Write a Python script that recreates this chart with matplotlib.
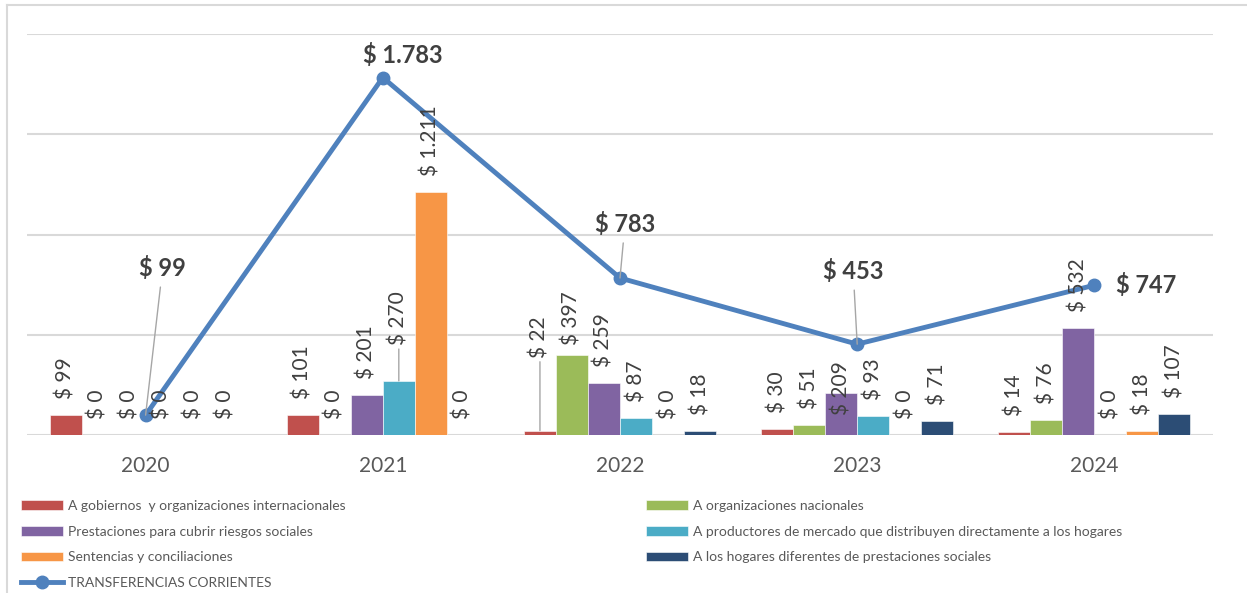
import numpy as np
import matplotlib
matplotlib.use('Agg')
import matplotlib.pyplot as plt
from matplotlib.lines import Line2D

plt.rcParams['font.family'] = ['Lato', 'DejaVu Sans']

years = ['2020', '2021', '2022', '2023', '2024']
series_names = [
    'A gobiernos  y organizaciones internacionales',
    'A organizaciones nacionales',
    'Prestaciones para cubrir riesgos sociales',
    'A productores de mercado que distribuyen directamente a los hogares',
    'Sentencias y conciliaciones',
    'A los hogares diferentes de prestaciones sociales',
]
gobiernos = [99, 101, 22, 30, 14]
nacionales = [0, 0, 397, 51, 76]
prestaciones = [0, 201, 259, 209, 532]
productores = [0, 270, 87, 93, 0]
sentencias = [0, 1211, 0, 0, 18]
hogares = [0, 0, 18, 71, 107]
total_name = 'TRANSFERENCIAS CORRIENTES'
total = [99, 1783, 783, 453, 747]

colors = ['#C0504D', '#9BBB59', '#8064A2', '#4BACC6', '#F79646', '#2C4D75']
line_color = '#4F81BD'
text_color = '#404040'


def fmt(v):
    return '$ ' + f'{v:,}'.replace(',', '.')


fig = plt.figure(figsize=(12.47, 5.93), dpi=100)
ax = fig.add_axes([27 / 1247, 158 / 593, 1186 / 1247, 401 / 593])

series = [gobiernos, nacionales, prestaciones, productores, sentencias, hogares]
x = np.arange(len(years))
w = 0.135

# label tweaks (year idx, series idx): pixel offset, leader line
offsets = {(1, 3): (36, True), (2, 0): (73, True), (2, 1): (10, False),
           (3, 2): (-22, False)}

bars = []
for k, vals in enumerate(series):
    pos = x + (k - 2.5) * w
    b = ax.bar(pos, vals, width=w, color=colors[k], edgecolor='white',
               linewidth=0.4, zorder=2)
    bars.append(b)
    for i, v in enumerate(vals):
        off, lead = offsets.get((i, k), (16, False))
        kw = {}
        if lead:
            kw['arrowprops'] = dict(arrowstyle='-', color='#A6A6A6', lw=1,
                                    shrinkA=1, shrinkB=0)
        ax.annotate(fmt(v), xy=(pos[i], v), xytext=(0, off),
                    textcoords='offset pixels', rotation=90,
                    ha='center', va='bottom', fontsize=15,
                    color=text_color, zorder=4, **kw)

ln, = ax.plot(x, total, color=line_color, lw=3.5, marker='o', ms=9,
              zorder=3)

# line label offsets in pixels
line_off = [(17, 147, True), (20, 23, False), (5, 54, True),
            (-4, 73, True), (52, 0, False)]
for i, v in enumerate(total):
    dx, dy, lead = line_off[i]
    kw = {}
    if lead:
        kw['arrowprops'] = dict(arrowstyle='-', color='#A6A6A6', lw=1,
                                shrinkA=3, shrinkB=0)
    ax.annotate(fmt(v), xy=(x[i], v), xytext=(dx, dy),
                textcoords='offset pixels', ha='center', va='center',
                fontsize=17, fontweight='bold', color=text_color, zorder=5,
                **kw)

ax.set_xlim(-0.5, 4.5)
ax.set_ylim(0, 2000)
ax.set_yticks([0, 500, 1000, 1500, 2000])
ax.set_yticklabels([])
ax.tick_params(axis='y', length=0)
ax.set_xticks(x)
ax.set_xticklabels(years, fontsize=15, color='#595959')
ax.tick_params(axis='x', length=0, pad=15)
ax.grid(axis='y', color='#D9D9D9', lw=1.5, zorder=0)
ax.set_axisbelow(True)
for s in ax.spines.values():
    s.set_visible(False)

leg_kw = dict(frameon=False, fontsize=10, labelcolor='#595959',
              handlelength=3.0, handletextpad=0.35, labelspacing=0.98,
              borderpad=0, borderaxespad=0, loc='upper left')
h1 = [bars[0], bars[2], bars[4], ln]
l1 = [series_names[0], series_names[2], series_names[4], total_name]
fig.legend(h1, l1, bbox_to_anchor=(21 / 1247, 1 - 500 / 593), **leg_kw)
h2 = [bars[1], bars[3], bars[5]]
l2 = [series_names[1], series_names[3], series_names[5]]
fig.legend(h2, l2, bbox_to_anchor=(646 / 1247, 1 - 500 / 593), **leg_kw)

# outer frame (top and left)
fig.add_artist(Line2D([7 / 1247, 7 / 1247], [0, 1 - 5 / 593],
                      transform=fig.transFigure, color='#D9D9D9', lw=1.5))
fig.add_artist(Line2D([7 / 1247, 1], [1 - 5 / 593, 1 - 5 / 593],
                      transform=fig.transFigure, color='#D9D9D9', lw=1.5))

fig.savefig('out.png', dpi=100)
